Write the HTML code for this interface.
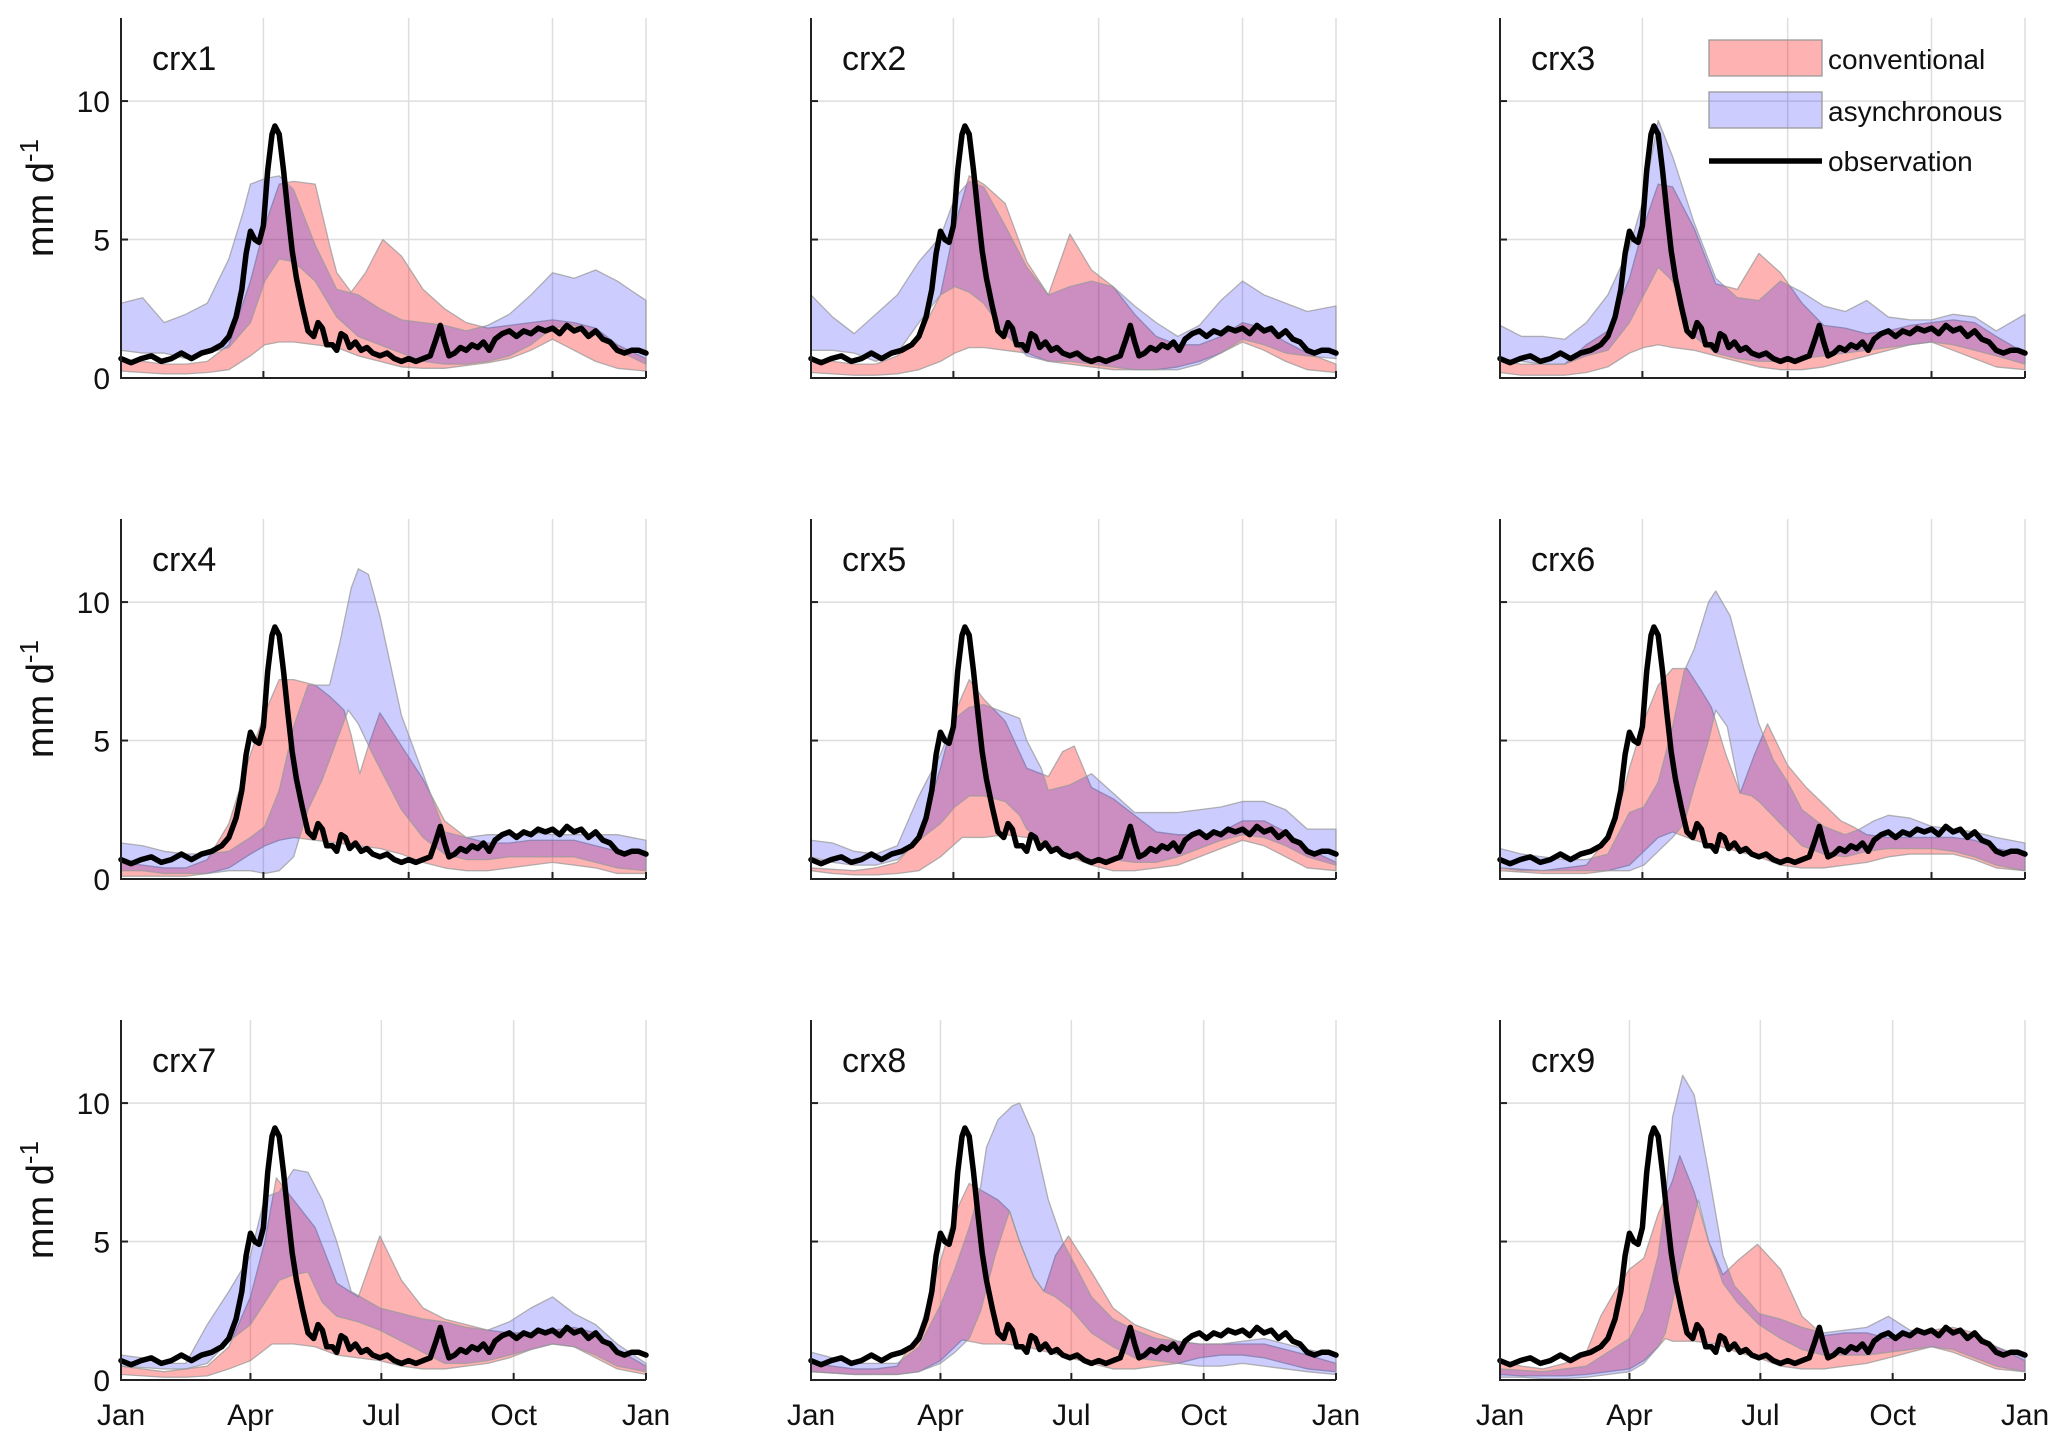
<!DOCTYPE html>
<html><head><meta charset="utf-8">
<style>
html,body{margin:0;padding:0;background:#fff;}
svg{display:block;font-family:"Liberation Sans",Arial,sans-serif;}
</style></head>
<body>
<svg id="fig" width="2067" height="1451" viewBox="0 0 2067 1451" xmlns="http://www.w3.org/2000/svg"></svg>
<script>
// ---------- data ----------
const panelNames = ["crx1","crx2","crx3","crx4","crx5","crx6","crx7","crx8","crx9"];
const yTickValues = [0,5,10];
const xTickLabels = ["Jan","Apr","Jul","Oct","Jan"];
const xTickDaysBottom = [0,90,181,273,365];
const xTickDaysUpper = [0,99,200,300,365];

const obsDays = [0,7,14,21,28,35,42,49,56,63,70,75,80,84,87,90,93,96,99,102,105,107,110,113,116,119,122,126,130,134,137,140,143,147,150,153,156,159,163,167,171,175,180,185,190,195,200,205,210,215,219,222,225,228,232,236,240,244,248,252,256,260,265,270,275,280,285,290,295,300,305,310,315,320,325,330,335,340,345,350,355,360,365];
const obsVals = [0.7,0.55,0.7,0.8,0.6,0.7,0.9,0.7,0.9,1.0,1.2,1.5,2.2,3.2,4.5,5.3,5.0,4.9,5.5,7.5,8.8,9.1,8.8,7.5,6.0,4.6,3.6,2.6,1.7,1.5,2.0,1.8,1.2,1.2,1.0,1.6,1.5,1.1,1.3,1.0,1.1,0.9,0.8,0.9,0.7,0.6,0.7,0.6,0.7,0.8,1.4,1.9,1.3,0.8,0.9,1.1,1.0,1.2,1.1,1.3,1.0,1.4,1.6,1.7,1.5,1.7,1.6,1.8,1.7,1.8,1.6,1.9,1.7,1.8,1.5,1.7,1.4,1.3,1.0,0.9,1.0,1.0,0.9,0.75];

// conventional (c) and asynchronous (a) bands: [day, value]
const c1U=[[0,.6],[15,.6],[30,.5],[45,.5],[60,.6],[75,1.2],[90,3.5],[100,5.5],[110,7.0],[120,7.1],[135,7.0],[145,4.8],[150,3.8],[160,3.1],[170,3.8],[182,5.0],[195,4.4],[210,3.2],[225,2.5],[240,2.0],[255,1.8],[270,1.9],[285,2.0],[300,2.1],[315,2.0],[330,1.8],[345,1.2],[365,.7]];
const c1L=[[0,.25],[15,.2],[30,.15],[45,.15],[60,.2],[75,.3],[90,.8],[100,1.2],[110,1.3],[120,1.3],[135,1.2],[150,1.1],[165,.8],[180,.6],[195,.4],[210,.35],[225,.35],[240,.45],[255,.55],[270,.7],[285,1.0],[300,1.4],[315,1.0],[330,.6],[345,.35],[365,.25]];
const a1U=[[0,2.7],[15,2.9],[30,2.0],[45,2.3],[60,2.7],[75,4.3],[85,6.0],[90,7.0],[100,7.2],[110,7.3],[120,6.8],[135,4.8],[150,3.2],[165,3.0],[180,2.5],[195,2.1],[210,2.0],[225,1.9],[240,1.7],[255,1.9],[270,2.3],[285,3.0],[300,3.8],[315,3.6],[330,3.9],[345,3.5],[365,2.8]];
const a1L=[[0,1.0],[15,.9],[30,.9],[45,.7],[60,.9],[75,1.1],[90,2.0],[100,3.5],[110,4.3],[120,4.2],[135,3.5],[150,2.2],[165,1.5],[180,1.2],[195,.9],[210,.6],[225,.5],[240,.5],[255,.6],[270,.8],[285,1.2],[300,1.8],[315,1.9],[330,1.6],[345,1.0],[365,.5]];

const c2U=[[0,.7],[15,.6],[30,.5],[45,.5],[60,.8],[75,1.5],[90,3.0],[100,5.5],[110,7.3],[120,7.0],[135,6.3],[150,4.2],[165,3.0],[180,5.2],[195,3.9],[210,3.3],[225,2.3],[240,1.5],[255,1.2],[270,1.2],[285,1.5],[300,2.0],[315,1.8],[330,1.3],[345,.9],[365,.5]];
const c2L=[[0,.2],[15,.15],[30,.1],[45,.1],[60,.15],[75,.3],[90,.6],[100,.9],[110,1.1],[120,1.1],[135,1.0],[150,.9],[165,.6],[180,.5],[195,.4],[210,.3],[225,.3],[240,.3],[255,.4],[270,.6],[285,.9],[300,1.3],[315,1.0],[330,.6],[345,.3],[365,.2]];
const a2U=[[0,3.0],[15,2.2],[30,1.6],[45,2.3],[60,3.0],[75,4.2],[90,5.1],[100,6.5],[110,7.1],[120,6.9],[135,5.5],[150,4.0],[165,3.0],[180,3.3],[195,3.5],[210,3.3],[225,2.6],[240,2.0],[255,1.5],[270,1.9],[285,2.8],[300,3.5],[315,3.0],[330,2.7],[345,2.4],[365,2.6]];
const a2L=[[0,1.0],[15,1.0],[30,.9],[45,.6],[60,.9],[75,2.0],[90,3.0],[100,3.3],[110,3.1],[120,2.7],[135,1.6],[150,.8],[165,.6],[180,.6],[195,.5],[210,.4],[225,.3],[240,.3],[255,.3],[270,.5],[285,.9],[300,1.4],[315,1.2],[330,.9],[345,.8],[365,.7]];

const c3U=[[0,.6],[15,.5],[30,.5],[45,.5],[60,1.2],[75,1.7],[90,3.6],[100,5.5],[110,7.0],[120,6.9],[135,5.4],[150,3.4],[165,3.2],[180,4.5],[195,3.8],[210,2.7],[225,1.9],[240,1.8],[255,1.6],[270,1.7],[285,1.9],[300,2.0],[315,2.1],[330,2.0],[345,1.5],[365,.9]];
const c3L=[[0,.2],[15,.1],[30,.1],[45,.1],[60,.2],[75,.4],[90,.9],[100,1.1],[110,1.2],[120,1.1],[135,1.0],[150,.8],[165,.6],[180,.4],[195,.3],[210,.3],[225,.4],[240,.6],[255,.8],[270,1.0],[285,1.2],[300,1.3],[315,1.0],[330,.7],[345,.4],[365,.3]];
const a3U=[[0,1.9],[15,1.5],[30,1.5],[45,1.4],[60,2.0],[75,3.0],[90,4.7],[100,6.5],[110,9.3],[120,8.0],[135,5.6],[150,3.6],[165,2.9],[180,2.8],[195,3.5],[210,3.1],[225,2.6],[240,2.4],[255,2.8],[270,2.2],[285,2.1],[300,2.1],[315,2.3],[330,2.2],[345,1.7],[365,2.3]];
const a3L=[[0,.7],[15,.6],[30,.5],[45,.5],[60,.8],[75,1.0],[90,2.0],[100,3.0],[110,4.0],[120,3.5],[135,1.5],[150,.9],[165,.7],[180,.6],[195,.6],[210,.7],[225,.8],[240,.9],[255,1.0],[270,1.1],[285,1.2],[300,1.3],[315,1.2],[330,1.0],[345,.8],[365,.5]];

const c4U=[[0,.6],[15,.5],[30,.4],[45,.4],[60,.7],[75,2.0],[90,4.5],[100,6.0],[110,7.2],[120,7.2],[135,7.0],[145,6.6],[155,6.1],[160,5.2],[166,3.8],[172,4.8],[180,6.0],[195,4.8],[210,3.6],[225,2.1],[240,1.5],[255,1.3],[270,1.3],[285,1.4],[300,1.4],[315,1.4],[330,1.2],[345,1.0],[365,.9]];
const c4L=[[0,.1],[15,.1],[30,.1],[45,.1],[60,.2],[75,.4],[90,.9],[100,1.2],[110,1.4],[120,1.5],[135,1.4],[150,1.3],[165,1.2],[180,1.1],[195,.9],[210,.6],[225,.4],[240,.3],[255,.3],[270,.4],[285,.5],[300,.6],[315,.5],[330,.4],[345,.2],[365,.2]];
const a4U=[[0,1.3],[15,1.2],[30,1.0],[45,.9],[60,.9],[75,1.0],[90,1.5],[100,1.9],[110,3.2],[120,5.5],[130,7.0],[145,7.0],[152,8.5],[160,10.5],[165,11.2],[172,11.0],[180,9.5],[195,5.9],[210,3.8],[225,1.7],[240,1.5],[255,1.6],[270,1.6],[285,1.7],[300,1.6],[315,1.6],[330,1.6],[345,1.6],[365,1.4]];
const a4L=[[0,.3],[15,.3],[30,.2],[45,.2],[60,.2],[75,.3],[90,.3],[100,.2],[110,.3],[120,.8],[130,2.5],[140,3.6],[150,5.0],[158,6.1],[165,5.6],[175,4.5],[185,3.5],[195,2.5],[210,1.5],[225,.9],[240,.7],[255,.7],[270,.8],[285,.8],[300,.8],[315,.8],[330,.6],[345,.4],[365,.3]];

const c5U=[[0,.4],[15,.35],[30,.3],[45,.4],[60,.6],[75,1.5],[90,4.0],[100,6.0],[110,7.2],[120,6.5],[135,5.7],[150,4.0],[165,3.7],[175,4.6],[183,4.8],[195,3.3],[210,2.9],[225,2.3],[240,1.7],[255,1.6],[270,1.6],[285,1.7],[300,2.1],[315,2.1],[330,1.7],[345,1.1],[365,.6]];
const c5L=[[0,.3],[15,.2],[30,.15],[45,.15],[60,.2],[75,.3],[90,.8],[105,1.5],[120,1.5],[135,1.6],[150,1.5],[165,1.2],[180,.8],[195,.5],[210,.3],[225,.3],[240,.4],[255,.5],[270,.8],[285,1.1],[300,1.4],[315,1.2],[330,.8],[345,.4],[365,.3]];
const a5U=[[0,1.4],[15,1.3],[30,1.0],[45,.9],[60,1.2],[75,3.0],[90,4.5],[100,5.8],[110,6.2],[120,6.3],[135,6.0],[145,5.8],[150,5.0],[160,4.0],[165,3.2],[180,3.4],[195,3.8],[210,3.1],[225,2.4],[240,2.4],[255,2.4],[270,2.5],[285,2.6],[300,2.8],[315,2.8],[330,2.5],[345,1.8],[365,1.8]];
const a5L=[[0,.8],[15,.6],[30,.5],[45,.5],[60,.7],[75,1.4],[90,2.0],[100,2.6],[110,3.0],[120,3.0],[135,2.8],[145,2.3],[150,1.8],[165,1.2],[180,.9],[195,.7],[210,.7],[225,.6],[240,.6],[255,.8],[270,1.1],[285,1.4],[300,1.6],[315,1.5],[330,1.2],[345,.8],[365,.5]];

const c6U=[[0,.4],[15,.35],[30,.3],[45,.4],[60,.5],[75,1.5],[85,3.0],[90,4.0],[100,5.7],[110,7.0],[120,7.6],[130,7.6],[140,6.8],[147,6.2],[157,4.5],[167,3.1],[177,4.5],[186,5.6],[200,4.1],[213,3.3],[225,2.7],[237,2.1],[245,1.9],[255,1.6],[270,1.5],[285,1.5],[300,1.5],[315,1.5],[330,1.4],[345,1.1],[365,.9]];
const c6L=[[0,.3],[15,.25],[30,.2],[45,.2],[60,.2],[75,.3],[90,.5],[100,1.0],[110,1.5],[120,1.7],[135,1.4],[150,1.2],[165,1.0],[180,.8],[195,.5],[210,.4],[225,.4],[240,.5],[255,.6],[270,.8],[285,.9],[300,.9],[315,.9],[330,.7],[345,.4],[365,.3]];
const a6U=[[0,1.1],[15,.9],[30,.8],[45,.7],[60,.7],[75,.9],[90,2.4],[100,2.6],[110,3.5],[120,5.5],[128,7.5],[135,8.3],[145,10.0],[150,10.4],[160,9.5],[170,7.5],[180,5.6],[190,4.3],[200,3.5],[210,2.5],[225,1.9],[240,1.6],[250,1.8],[260,2.1],[270,2.3],[285,2.2],[300,1.9],[315,1.8],[330,1.7],[345,1.5],[365,1.3]];
const a6L=[[0,.4],[15,.3],[30,.3],[45,.3],[60,.3],[75,.3],[90,.3],[100,.5],[110,1.0],[120,1.5],[128,2.0],[135,3.3],[145,5.0],[150,6.1],[158,5.5],[167,3.1],[175,3.0],[180,2.8],[195,2.0],[210,1.2],[225,.9],[240,.8],[255,1.0],[270,1.1],[285,1.1],[300,1.1],[315,1.0],[330,.8],[345,.5],[365,.3]];

const c7U=[[0,.5],[15,.4],[30,.3],[45,.4],[60,.5],[75,1.2],[90,3.0],[100,5.0],[108,7.3],[120,6.5],[135,5.5],[150,3.5],[165,3.0],[180,5.2],[195,3.6],[210,2.6],[225,2.2],[240,2.0],[255,1.8],[270,1.7],[285,1.7],[300,1.8],[315,1.9],[330,1.7],[345,1.1],[365,.5]];
const c7L=[[0,.2],[15,.15],[30,.1],[45,.1],[60,.15],[75,.4],[90,.7],[105,1.3],[120,1.3],[135,1.2],[150,.9],[165,.8],[180,.7],[195,.5],[210,.4],[225,.4],[240,.5],[255,.6],[270,.8],[285,1.1],[300,1.3],[315,1.2],[330,.8],[345,.4],[365,.2]];
const a7U=[[0,.9],[15,.8],[30,.6],[45,.6],[60,2.0],[75,3.2],[90,4.5],[100,6.6],[110,6.8],[120,7.6],[130,7.5],[140,6.5],[150,5.0],[160,3.2],[170,2.9],[180,2.6],[195,2.4],[210,2.2],[225,2.1],[240,1.9],[255,1.8],[270,2.1],[285,2.6],[300,3.0],[315,2.4],[330,2.0],[345,1.3],[365,.6]];
const a7L=[[0,.5],[15,.45],[30,.4],[45,.4],[60,.6],[75,1.4],[90,2.0],[100,2.8],[110,3.6],[120,3.8],[130,3.9],[140,2.8],[150,2.3],[165,2.1],[180,1.8],[195,1.4],[210,1.0],[225,.6],[240,.6],[255,.7],[270,.9],[285,1.1],[300,1.3],[315,1.2],[330,.9],[345,.5],[365,.3]];

const c8U=[[0,.6],[15,.5],[30,.4],[45,.4],[60,.5],[75,1.7],[90,4.3],[100,6.0],[110,7.1],[120,6.8],[130,6.5],[138,6.1],[145,5.0],[155,3.7],[162,3.2],[170,4.5],[179,5.2],[195,3.9],[210,2.6],[225,2.0],[240,1.7],[255,1.4],[270,1.3],[285,1.3],[300,1.3],[315,1.3],[330,1.1],[345,.9],[365,.6]];
const c8L=[[0,.3],[15,.25],[30,.2],[45,.2],[60,.2],[75,.3],[90,.7],[105,1.45],[120,1.3],[135,1.3],[150,1.2],[165,1.0],[180,.8],[195,.6],[210,.4],[225,.4],[240,.5],[255,.6],[270,.8],[285,.9],[300,.9],[315,.8],[330,.6],[345,.4],[365,.3]];
const a8U=[[0,1.0],[15,.8],[30,.6],[45,.6],[60,.6],[75,1.2],[90,2.7],[100,4.0],[110,5.5],[118,7.0],[122,8.4],[130,9.4],[140,9.9],[145,10.0],[155,8.8],[165,6.5],[175,5.0],[185,4.0],[195,3.0],[210,2.2],[225,1.8],[240,1.5],[255,1.4],[270,1.3],[285,1.3],[300,1.4],[315,1.5],[330,1.3],[345,1.1],[365,.9]];
const a8L=[[0,.3],[15,.25],[30,.2],[45,.2],[60,.2],[75,.3],[90,.6],[100,1.0],[110,1.5],[118,2.5],[128,4.5],[138,6.1],[145,5.0],[155,3.7],[162,3.2],[170,3.0],[180,2.6],[195,1.7],[210,1.2],[225,.8],[240,.7],[255,.6],[270,.5],[285,.5],[300,.6],[315,.5],[330,.4],[345,.3],[365,.2]];

const c9U=[[0,.7],[15,.5],[30,.4],[45,.6],[60,1.0],[70,2.3],[80,3.2],[90,4.0],[100,4.4],[110,6.0],[120,7.2],[125,8.1],[135,6.8],[145,5.0],[155,3.8],[165,4.3],[179,4.9],[195,4.0],[210,2.3],[225,1.6],[240,1.7],[255,1.7],[270,1.5],[285,1.7],[300,1.8],[315,1.9],[330,1.7],[345,1.2],[365,.7]];
const c9L=[[0,.2],[15,.15],[30,.15],[45,.15],[60,.2],[75,.3],[90,.4],[100,.7],[110,1.2],[115,1.5],[120,1.4],[135,1.4],[150,1.3],[165,1.0],[180,.8],[195,.5],[210,.4],[225,.4],[240,.5],[255,.6],[270,.8],[285,1.0],[300,1.2],[315,1.0],[330,.7],[345,.4],[365,.3]];
const a9U=[[0,.4],[15,.35],[30,.3],[45,.4],[60,.5],[75,1.0],[90,1.5],[100,2.5],[110,4.5],[115,6.5],[120,9.5],[127,11.0],[135,10.3],[145,7.5],[155,4.5],[163,3.4],[170,3.0],[180,2.4],[195,2.2],[210,1.9],[225,1.7],[240,1.8],[255,1.9],[270,2.3],[285,1.8],[300,1.7],[315,1.8],[330,1.6],[345,1.2],[365,.8]];
const a9L=[[0,.1],[15,.1],[30,.05],[45,.05],[60,.1],[75,.2],[90,.3],[100,.6],[110,1.2],[115,1.7],[125,4.0],[138,6.5],[145,5.0],[155,3.5],[165,2.8],[180,2.0],[195,1.5],[210,1.1],[225,.9],[240,.9],[255,.9],[270,1.0],[285,1.1],[300,1.2],[315,1.1],[330,.8],[345,.5],[365,.3]];

const convUpper=[c1U,c2U,c3U,c4U,c5U,c6U,c7U,c8U,c9U];
const convLower=[c1L,c2L,c3L,c4L,c5L,c6L,c7L,c8L,c9L];
const asyncUpper=[a1U,a2U,a3U,a4U,a5U,a6U,a7U,a8U,a9U];
const asyncLower=[a1L,a2L,a3L,a4L,a5L,a6L,a7L,a8L,a9L];

// ---------- layout ----------
const colLeft=[121,811,1500];
const rowZero=[378,879,1380];
const PW=525, YMAX=13, PH=360;
const NS="http://www.w3.org/2000/svg";
const svg=document.getElementById('fig');
function mk(tag,attrs,parent){const e=document.createElementNS(NS,tag);for(const k in attrs)e.setAttribute(k,attrs[k]);(parent||svg).appendChild(e);return e;}

for(let p=0;p<9;p++){
  const r=Math.floor(p/3), c=p%3;
  const L=colLeft[c], Z=rowZero[r], T=Z-PH;
  const xs=d=>L+d/365*PW;
  const ys=v=>Z-v/YMAX*PH;
  const g=mk('g',{});
  
  
  const tickDays = r===2 ? xTickDaysBottom : xTickDaysUpper;
  for(const v of yTickValues.slice(1)){
    const ln=mk('line',{x1:L,x2:L+PW,y1:ys(v),y2:ys(v),stroke:'#dedede','stroke-width':1.5},g);
    
    
  }
  for(const d of tickDays.slice(1)){
    const ln=mk('line',{x1:xs(d),x2:xs(d),y1:T,y2:Z,stroke:'#dedede','stroke-width':1.5},g);
    
    
  }
  const band=(up,lo,fill,op,name)=>{
    const pts=up.map(q=>xs(q[0])+','+ys(q[1])).concat(lo.slice().reverse().map(q=>xs(q[0])+','+ys(q[1])));
    const pg=mk('polygon',{points:pts.join(' '),fill:fill,'fill-opacity':op,stroke:'#9a9a9a','stroke-opacity':0.75,'stroke-width':1.3,'stroke-linejoin':'round'},g);
    
    
  };
  band(convUpper[p],convLower[p],'#ff0000',0.3,'conventional-band');
  band(asyncUpper[p],asyncLower[p],'#0000ff',0.2,'asynchronous-band');
  const op=mk('polyline',{points:obsDays.map((d,i)=>xs(d)+','+ys(obsVals[i])).join(' '),fill:'none',stroke:'#000','stroke-width':5.5,'stroke-linejoin':'round','stroke-linecap':'round'},g);
  
  
  const ax=mk('path',{d:`M${L},${T} L${L},${Z} L${L+PW},${Z}`,fill:'none',stroke:'#222','stroke-width':2},g);
  
  
  for(const v of yTickValues){
    mk('line',{x1:L,x2:L+7,y1:ys(v),y2:ys(v),stroke:'#222','stroke-width':2},g);
    if(c===0){
      const t=mk('text',{x:L-11,y:ys(v)+11,'text-anchor':'end','font-size':30,fill:'#111'},g);
      t.textContent=v;
      
      
    }
  }
  tickDays.forEach((d,i)=>{
    mk('line',{x1:xs(d),x2:xs(d),y1:Z,y2:Z-7,stroke:'#222','stroke-width':2},g);
    if(r===2){
      const t=mk('text',{x:xs(d),y:1425,'text-anchor':'middle','font-size':30,fill:'#111'},g);
      t.textContent=xTickLabels[i];
      
      
    }
  });
  const lb=mk('text',{x:L+31,y:T+52,'font-size':34,fill:'#111'},g);
  lb.textContent=panelNames[p];
  
  
  if(c===0){
    const yl=mk('text',{transform:`translate(53,${Z-PH/2}) rotate(-90)`,'text-anchor':'middle','font-size':38,fill:'#111'},g);
    yl.innerHTML='mm d<tspan dy="-15" font-size="26">-1</tspan>';
    
    
  }
}
// legend
const lg=mk('g',{});


const e1=mk('rect',{x:1709,y:40,width:113,height:36,fill:'#ff0000','fill-opacity':0.3,stroke:'#9a9a9a','stroke-width':1.3},lg);


const e2=mk('rect',{x:1709,y:92,width:113,height:36,fill:'#0000ff','fill-opacity':0.2,stroke:'#9a9a9a','stroke-width':1.3},lg);


const e3=mk('line',{x1:1709,x2:1822,y1:161,y2:161,stroke:'#000','stroke-width':5.5},lg);


[["conventional",69],["asynchronous",121],["observation",171]].forEach(([s,y])=>{
  const t=mk('text',{x:1828,y:y,'font-size':28,fill:'#111'},lg);
  t.textContent=s;
  
  
});
</script>
</body></html>
